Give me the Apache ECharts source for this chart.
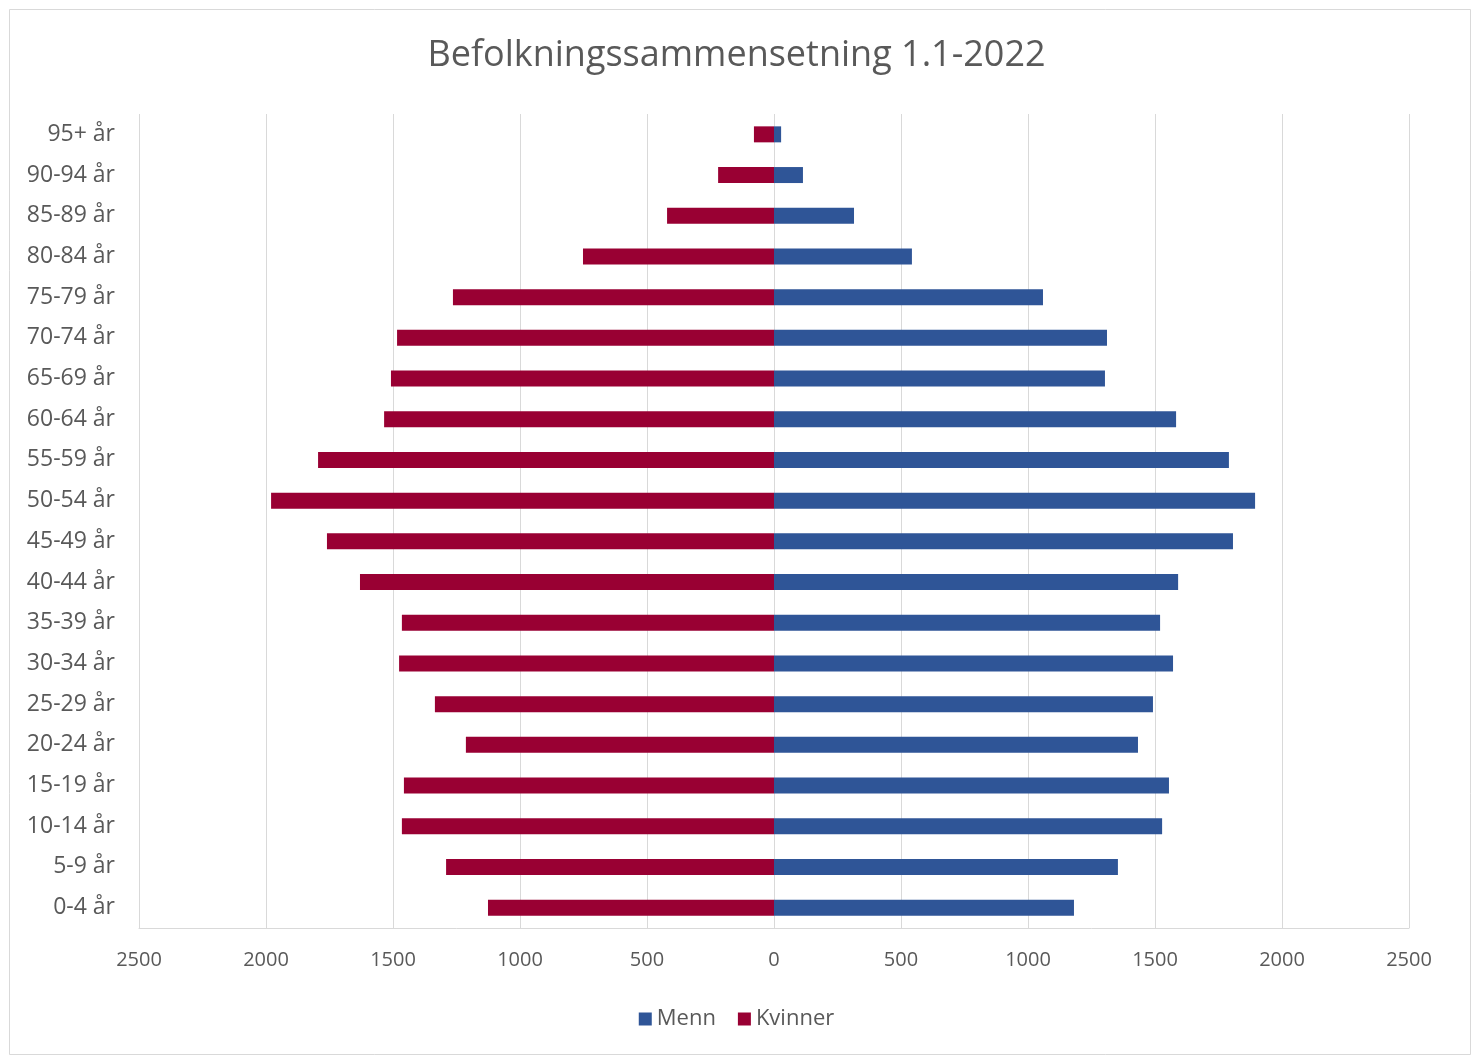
<!DOCTYPE html>
<html>
<head>
<meta charset="utf-8">
<script src="https://cdn.jsdelivr.net/npm/echarts@6/dist/echarts.min.js"></script>
<style>
html,body{margin:0;padding:0;background:#fff;}
#chart{width:1473px;height:1057px;}
</style>
</head>
<body>
<div id="chart"></div>
<script>
const categories = ['0-4 år','5-9 år','10-14 år','15-19 år','20-24 år','25-29 år','30-34 år','35-39 år','40-44 år','45-49 år','50-54 år','55-59 år','60-64 år','65-69 år','70-74 år','75-79 år','80-84 år','85-89 år','90-94 år','95+ år'];
const menn = [1181,1354,1528,1555,1433,1492,1571,1520,1591,1807,1894,1791,1583,1303,1311,1059,543,315,114,28];
const kvinner = [1126,1291,1465,1457,1213,1335,1476,1465,1630,1760,1980,1795,1535,1508,1484,1264,752,421,220,79];

const chart = echarts.init(document.getElementById('chart'));
const font = '"Open Sans", "Noto Sans", sans-serif';
chart.setOption({
  backgroundColor: '#fff',
  animation: false,
  textStyle: {fontFamily: font},
  graphic: [{
    type: 'rect', left: 7, top: 7,
    shape: {width: 1461, height: 1045},
    style: {fill: 'none', stroke: '#d9d9d9', lineWidth: 1}
  }],
  title: {
    text: 'Befolkningssammensetning 1.1-2022',
    left: 'center', top: 33,
    textStyle: {fontFamily: font, fontSize: 36, fontWeight: 'normal', color: '#595959'}
  },
  legend: {
    data: ['Menn', 'Kvinner'],
    bottom: 22, left: 'center',
    itemWidth: 13, itemHeight: 13, itemGap: 22,
    icon: 'rect',
    textStyle: {fontFamily: font, fontSize: 22, color: '#595959'}
  },
  grid: {left: 139, right: 64, top: 114, bottom: 129, containLabel: false},
  xAxis: {
    type: 'value', min: -2500, max: 2500, interval: 500,
    axisLine: {show: true, lineStyle: {color: '#d9d9d9'}},
    axisTick: {show: false},
    splitLine: {show: true, lineStyle: {color: '#d9d9d9', width: 1}},
    axisLabel: {
      fontFamily: font, fontSize: 20, color: '#595959', margin: 22,
      formatter: v => String(Math.abs(v))
    }
  },
  yAxis: {
    type: 'category', data: categories,
    axisLine: {show: false, onZero: false},
    axisTick: {show: false},
    axisLabel: {fontFamily: font, fontSize: 23, color: '#595959', margin: 24}
  },
  series: [
    {
      name: 'Menn', type: 'bar', stack: 'pop', barWidth: 16,
      itemStyle: {color: '#2F5597'},
      data: menn
    },
    {
      name: 'Kvinner', type: 'bar', stack: 'pop', barWidth: 16,
      itemStyle: {color: '#990033'},
      data: kvinner.map(v => -v)
    }
  ]
});
</script>
</body>
</html>
